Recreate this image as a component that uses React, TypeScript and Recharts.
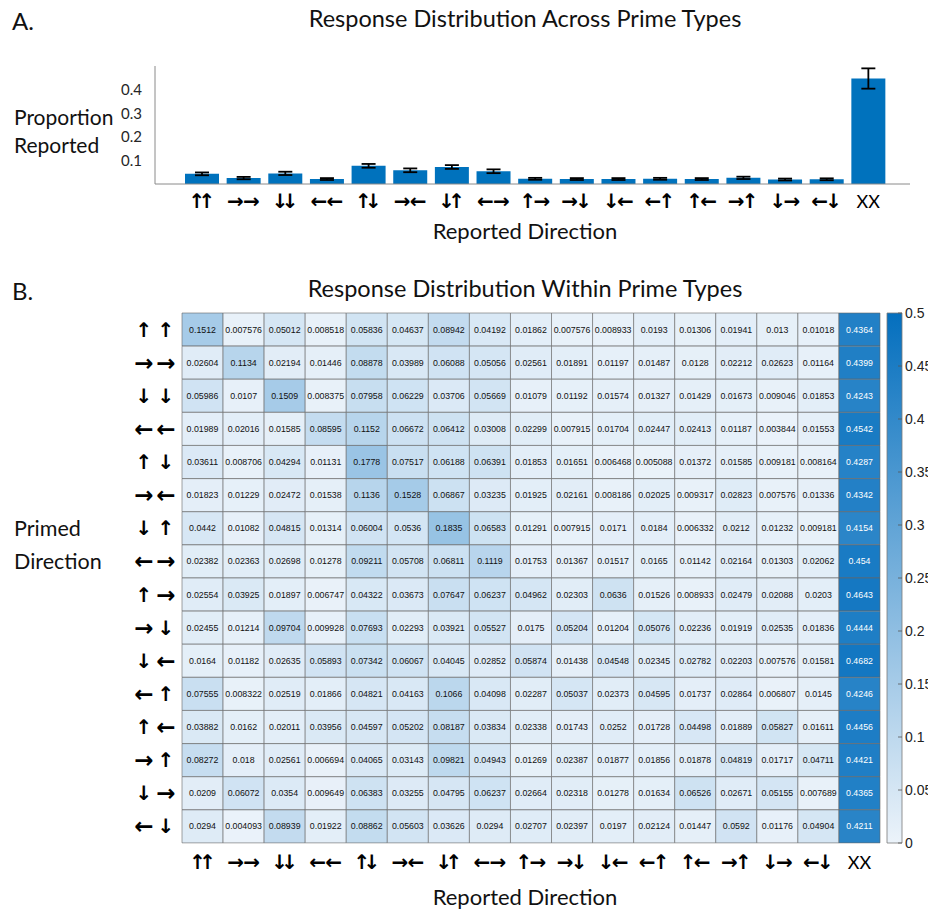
import React from 'react';
import { BarChart, Bar, XAxis, YAxis, ErrorBar, Cell, LabelList } from 'recharts';

// ---------- labels ----------
const primedLabels = ['↑↑', '→→', '↓↓', '←←', '↑↓', '→←', '↓↑', '←→', '↑→', '→↓', '↓←', '←↑', '↑←', '→↑', '↓→', '←↓'];
const reportedLabels = [...primedLabels, 'XX'];

// ---------- panel A ----------
const meanProportion = [0.043, 0.025, 0.045, 0.021, 0.077, 0.058, 0.072, 0.054, 0.022, 0.021, 0.021, 0.022, 0.021, 0.026, 0.019, 0.020, 0.447];
const meanError = [0.006, 0.005, 0.007, 0.004, 0.008, 0.008, 0.008, 0.008, 0.004, 0.004, 0.004, 0.004, 0.004, 0.005, 0.004, 0.004, 0.043];
const panelATicks = [0.1, 0.2, 0.3, 0.4];

// ---------- panel B (rows = primed direction, cols = reported direction) ----------
const rowUpUp = [0.1512, 0.007576, 0.05012, 0.008518, 0.05836, 0.04637, 0.08942, 0.04192, 0.01862, 0.007576, 0.008933, 0.0193, 0.01306, 0.01941, 0.013, 0.01018, 0.4364];
const rowRightRight = [0.02604, 0.1134, 0.02194, 0.01446, 0.08878, 0.03989, 0.06088, 0.05056, 0.02561, 0.01891, 0.01197, 0.01487, 0.0128, 0.02212, 0.02623, 0.01164, 0.4399];
const rowDownDown = [0.05986, 0.0107, 0.1509, 0.008375, 0.07958, 0.06229, 0.03706, 0.05669, 0.01079, 0.01192, 0.01574, 0.01327, 0.01429, 0.01673, 0.009046, 0.01853, 0.4243];
const rowLeftLeft = [0.01989, 0.02016, 0.01585, 0.08595, 0.1152, 0.06672, 0.06412, 0.03008, 0.02299, 0.007915, 0.01704, 0.02447, 0.02413, 0.01187, 0.003844, 0.01553, 0.4542];
const rowUpDown = [0.03611, 0.008706, 0.04294, 0.01131, 0.1778, 0.07517, 0.06188, 0.06391, 0.01853, 0.01651, 0.006468, 0.005088, 0.01372, 0.01585, 0.009181, 0.008164, 0.4287];
const rowRightLeft = [0.01823, 0.01229, 0.02472, 0.01538, 0.1136, 0.1528, 0.06867, 0.03235, 0.01925, 0.02161, 0.008186, 0.02025, 0.009317, 0.02823, 0.007576, 0.01336, 0.4342];
const rowDownUp = [0.0442, 0.01082, 0.04815, 0.01314, 0.06004, 0.0536, 0.1835, 0.06583, 0.01291, 0.007915, 0.0171, 0.0184, 0.006332, 0.0212, 0.01232, 0.009181, 0.4154];
const rowLeftRight = [0.02382, 0.02363, 0.02698, 0.01278, 0.09211, 0.05708, 0.06811, 0.1119, 0.01753, 0.01367, 0.01517, 0.0165, 0.01142, 0.02164, 0.01303, 0.02062, 0.454];
const rowUpRight = [0.02554, 0.03925, 0.01897, 0.006747, 0.04322, 0.03673, 0.07647, 0.06237, 0.04962, 0.02303, 0.0636, 0.01526, 0.008933, 0.02479, 0.02088, 0.0203, 0.4643];
const rowRightDown = [0.02455, 0.01214, 0.09704, 0.009928, 0.07693, 0.02293, 0.03921, 0.05527, 0.0175, 0.05204, 0.01204, 0.05076, 0.02236, 0.01919, 0.02535, 0.01836, 0.4444];
const rowDownLeft = [0.0164, 0.01182, 0.02635, 0.05893, 0.07342, 0.06067, 0.04045, 0.02852, 0.05874, 0.01438, 0.04548, 0.02345, 0.02782, 0.02203, 0.007576, 0.01581, 0.4682];
const rowLeftUp = [0.07555, 0.008322, 0.02519, 0.01866, 0.04821, 0.04163, 0.1066, 0.04098, 0.02287, 0.05037, 0.02373, 0.04595, 0.01737, 0.02864, 0.006807, 0.0145, 0.4246];
const rowUpLeft = [0.03882, 0.0162, 0.02011, 0.03956, 0.04597, 0.05202, 0.08187, 0.03834, 0.02338, 0.01743, 0.0252, 0.01728, 0.04498, 0.01889, 0.05827, 0.01611, 0.4456];
const rowRightUp = [0.08272, 0.018, 0.02561, 0.006694, 0.04065, 0.03143, 0.09821, 0.04943, 0.01269, 0.02387, 0.01877, 0.01856, 0.01878, 0.04819, 0.01717, 0.04711, 0.4421];
const rowDownRight = [0.0209, 0.06072, 0.0354, 0.009649, 0.06383, 0.03255, 0.04795, 0.06237, 0.02664, 0.02318, 0.01278, 0.01634, 0.06526, 0.02671, 0.05155, 0.007689, 0.4365];
const rowLeftDown = [0.0294, 0.004093, 0.08939, 0.01922, 0.08862, 0.05603, 0.03626, 0.0294, 0.02707, 0.02397, 0.0197, 0.02124, 0.01447, 0.0592, 0.01176, 0.04904, 0.4211];

const heatRows = [rowUpUp, rowRightRight, rowDownDown, rowLeftLeft, rowUpDown, rowRightLeft, rowDownUp, rowLeftRight,
  rowUpRight, rowRightDown, rowDownLeft, rowLeftUp, rowUpLeft, rowRightUp, rowDownRight, rowLeftDown];

const colorbarTicks = [0, 0.05, 0.1, 0.15, 0.2, 0.25, 0.3, 0.35, 0.4, 0.45, 0.5];
const colorMax = 0.5;

// ---------- derived tables ----------
const panelAData = reportedLabels.map((label, i) => ({ label, mean: meanProportion[i], err: meanError[i] }));
const colIdx = reportedLabels.map((_, j) => j);
const heatData = heatRows.map((vals, i) => {
  const o: any = { name: primedLabels[i] };
  vals.forEach((v, j) => { o['w' + j] = 1; o['v' + j] = v; });
  return o;
});
const heatColTicks = colIdx.map((j) => j + 0.5);

// ---------- styling ----------
const LOW = [236, 243, 250];
const HIGH = [4, 111, 190];
const toHex = (c: number[]) => '#' + c.map((x) => Math.round(x).toString(16).padStart(2, '0')).join('');
const colorFor = (v: number) => {
  const t = Math.max(0, Math.min(1, v / colorMax));
  return toHex(LOW.map((l, k) => l + (HIGH[k] - l) * t));
};
const SANS = "Lato, 'Open Sans', sans-serif";
const ARIAL = "'Liberation Sans', Arial, sans-serif";
const ARROW = "'DejaVu Sans', sans-serif";

const isH = (ch: string) => ch === '←' || ch === '→';

function ArrowPair({ cx, cy, label, compact }: any) {
  if (label === 'XX') {
    return (
      <text x={cx} y={cy} textAnchor="middle" dominantBaseline="central" fontFamily={SANS} fontSize={18} fill="#000">XX</text>
    );
  }
  const chars = Array.from(label as string);
  let xs: number[];
  if (compact) {
    const h0 = isH(chars[0]), h1 = isH(chars[1]);
    const sep = h0 && h1 ? 16 : !h0 && !h1 ? 10 : 14;
    xs = [cx - sep / 2, cx + sep / 2];
  } else {
    xs = [cx - 30, cx - 8];
  }
  return (
    <text y={cy} textAnchor="middle" dominantBaseline="central" fontFamily={ARROW} fontWeight="bold" fill="#000">
      {chars.map((ch, k) => (
        <tspan key={k} x={xs[k]} fontSize={isH(ch) ? (compact ? 20 : 23) : 20}>{ch}</tspan>
      ))}
    </text>
  );
}

const TopTick = (p: any) => <ArrowPair cx={p.x} cy={p.y + 17} label={p.payload.value} compact />;
const HeatXTick = (p: any) => <ArrowPair cx={p.x} cy={p.y + 19} label={reportedLabels[Math.floor(p.payload.value)]} compact />;
const HeatYTick = (p: any) => <ArrowPair cx={p.x - 8} cy={p.y} label={p.payload.value} compact={false} />;

const CbTick = (p: any) => (
  <g>
    <line x1={p.x - 4} x2={p.x} y1={p.y} y2={p.y} stroke="#555" strokeWidth={0.8} />
    <text x={p.x + 3} y={p.y} dominantBaseline="central" fontFamily={ARIAL} fontSize={14} fill="#222">{String(p.payload.value)}</text>
  </g>
);

const renderCellLabel = (p: any) => {
  const { x, y, width, height, value } = p;
  return (
    <text x={x + width / 2} y={y + height / 2} textAnchor="middle" dominantBaseline="central" fontFamily={ARIAL}
      fontSize={8.8} fill={value > 0.3 ? '#ffffff' : '#111111'}>{String(value)}</text>
  );
};

function Label({ x, y, size, children, center }: any) {
  return (
    <div style={{
      position: 'absolute', left: x, top: y - size / 2 - 1, fontSize: size, lineHeight: `${size}px`,
      whiteSpace: 'nowrap', transform: center ? 'translateX(-50%)' : undefined, fontFamily: SANS, color: '#111',
    }}>{children}</div>
  );
}

export default function App() {
  return (
    <div style={{ position: 'absolute', left: 0, top: 0, width: 928, height: 910, overflow: 'hidden', background: '#fff' }}>
      {/* Panel A */}
      <div style={{ position: 'absolute', left: 0, top: 0 }}>
        <BarChart width={928} height={215} data={panelAData} margin={{ top: 66, right: 18, left: 0, bottom: 0 }} barSize={34}>
          <XAxis dataKey="label" interval={0} padding={{ left: 26, right: 21 }} tickLine={false} tickSize={0} tickMargin={0}
            axisLine={{ stroke: '#8a8a8a' }} height={31} tick={<TopTick />} />
          <YAxis width={155} domain={[0, 0.5]} ticks={panelATicks} tickLine={false} tickMargin={7} axisLine={{ stroke: '#8a8a8a' }}
            tick={{ fontSize: 15, fill: '#262626', fontFamily: SANS }} />
          <Bar dataKey="mean" fill="#0072BD" isAnimationActive={false}>
            <ErrorBar dataKey="err" width={7} stroke="#000" strokeWidth={1.8} />
          </Bar>
        </BarChart>
      </div>
      <Label x={12} y={22} size={24}>A.</Label>
      <Label x={525} y={20} size={23.5} center>Response Distribution Across Prime Types</Label>
      <Label x={14} y={117} size={21}>Proportion</Label>
      <Label x={14} y={145} size={21}>Reported</Label>
      <Label x={525} y={232} size={22} center>Reported Direction</Label>

      {/* Panel B */}
      <div style={{ position: 'absolute', left: 0, top: 280 }}>
        <BarChart layout="vertical" width={928} height={630} data={heatData} margin={{ top: 33, right: 48, left: 122, bottom: 27 }}
          barCategoryGap={0}>
          <XAxis type="number" domain={[0, 17]} ticks={heatColTicks} interval={0} axisLine={false} tickLine={false}
            tickSize={0} tickMargin={0} height={40} tick={<HeatXTick />} />
          <YAxis type="category" dataKey="name" width={60} axisLine={false} tickLine={false} tickSize={0} tickMargin={0}
            interval={0} tick={<HeatYTick />} />
          {colIdx.map((j) => (
            <Bar key={j} dataKey={'w' + j} stackId="s" isAnimationActive={false} stroke="#666666" strokeWidth={0.6}>
              {heatData.map((row, i) => <Cell key={i} fill={colorFor(row['v' + j])} />)}
              <LabelList dataKey={'v' + j} content={renderCellLabel} />
            </Bar>
          ))}
        </BarChart>
      </div>
      <div style={{ position: 'absolute', left: 860, top: 280 }}>
        <BarChart width={68} height={600} data={[{ v: colorMax }]} margin={{ top: 33, right: 0, left: 27, bottom: 37 }} barCategoryGap={0}>
          <defs>
            <linearGradient id="cbarGrad" x1="0" y1="1" x2="0" y2="0">
              <stop offset="0" stopColor={colorFor(0)} />
              <stop offset="1" stopColor={colorFor(colorMax)} />
            </linearGradient>
          </defs>
          <XAxis hide />
          <YAxis orientation="right" width={26} domain={[0, colorMax]} ticks={colorbarTicks} interval={0} axisLine={false}
            tickLine={false} tickSize={0} tickMargin={0} tick={<CbTick />} />
          <Bar dataKey="v" fill="url(#cbarGrad)" stroke="#7a7a7a" strokeWidth={0.8} isAnimationActive={false} />
        </BarChart>
      </div>
      <Label x={12} y={292} size={24}>B.</Label>
      <Label x={525} y={290} size={23.5} center>Response Distribution Within Prime Types</Label>
      <Label x={14} y={530} size={21.5}>Primed</Label>
      <Label x={14} y={563} size={21.5}>Direction</Label>
      <Label x={525} y={898} size={22} center>Reported Direction</Label>
    </div>
  );
}
